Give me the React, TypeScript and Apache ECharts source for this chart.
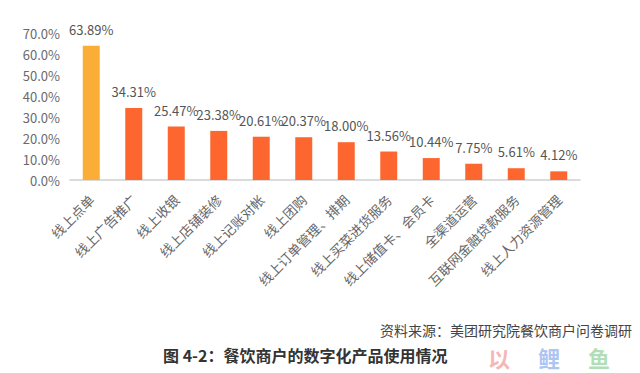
import React, { useEffect, useRef } from "react";
import * as echarts from "echarts";

const categories = [
  "线上点单",
  "线上广告推广",
  "线上收银",
  "线上店铺装修",
  "线上记账对帐",
  "线上团购",
  "线上订单管理、排期",
  "线上买菜进货服务",
  "线上储值卡、会员卡",
  "全渠道运营",
  "互联网金融贷款服务",
  "线上人力资源管理",
];
const values = [63.89, 34.31, 25.47, 23.38, 20.61, 20.37, 18.0, 13.56, 10.44, 7.75, 5.61, 4.12];
const yTicks = [0, 10, 20, 30, 40, 50, 60, 70];
const title = "图 4-2：餐饮商户的数字化产品使用情况";
const source = "资料来源：美团研究院餐饮商户问卷调研";
const watermark = ["以", "鲤", "鱼"];

export default function App() {
  const ref = useRef<HTMLDivElement>(null);
  useEffect(() => {
    if (!ref.current) return;
    const chart = echarts.init(ref.current, undefined, { renderer: "svg" });
    const font = "'Noto Sans CJK SC', 'Noto Sans', sans-serif";
    const wmColors = ["rgba(240,110,110,0.5)", "rgba(90,140,230,0.5)", "rgba(100,190,110,0.5)"];
    chart.setOption({
      animation: false,
      backgroundColor: "#ffffff",
      textStyle: { fontFamily: font },
      grid: { left: 70, right: 60, top: 33, bottom: 193 },
      xAxis: {
        type: "category",
        data: categories,
        axisLine: { lineStyle: { color: "#d0d0d0", width: 1.5 } },
        axisTick: { show: false },
        axisLabel: {
          rotate: 45,
          interval: 0,
          color: "#666",
          fontSize: 13.5,
          fontFamily: font,
          margin: 17,
        },
      },
      yAxis: {
        type: "value",
        min: yTicks[0],
        max: yTicks[yTicks.length - 1],
        interval: 10,
        splitLine: { show: false },
        axisLine: { show: false },
        axisTick: { show: false },
        axisLabel: {
          color: "#6a6a6a",
          fontSize: 13,
          fontFamily: font,
          margin: 10,
          formatter: (v: number) => v.toFixed(1) + "%",
        },
      },
      series: [
        {
          type: "bar",
          barWidth: 17,
          data: values.map((v, i) => ({
            value: v,
            itemStyle: { color: i === 0 ? "#FAAE38" : "#FD672F" },
          })),
          label: {
            show: true,
            position: "top",
            distance: 10,
            color: "#555",
            fontSize: 13,
            fontFamily: font,
            formatter: (p: any) => p.value.toFixed(2) + "%",
          },
        },
      ],
      graphic: [
        ...watermark.map((t, i) => ({
          type: "text",
          left: 488 + i * 50,
          top: 346,
          z: 1,
          style: {
            text: t,
            fill: wmColors[i],
            fontSize: 22,
            lineHeight: 22,
            fontWeight: "bold",
            fontFamily: font,
          },
        })),
        {
          type: "text",
          right: 8,
          top: 323,
          z: 2,
          style: { text: source, fill: "#444", fontSize: 14, lineHeight: 14, fontFamily: font },
        },
        {
          type: "text",
          left: 163,
          top: 347,
          z: 2,
          style: { text: title, fill: "#333", fontSize: 16, fontWeight: "bold", fontFamily: font },
        },
      ],
    });
    return () => chart.dispose();
  }, []);
  return (
    <div
      ref={ref}
      style={{ position: "fixed", left: 0, top: 0, width: 640, height: 373 }}
    />
  );
}
